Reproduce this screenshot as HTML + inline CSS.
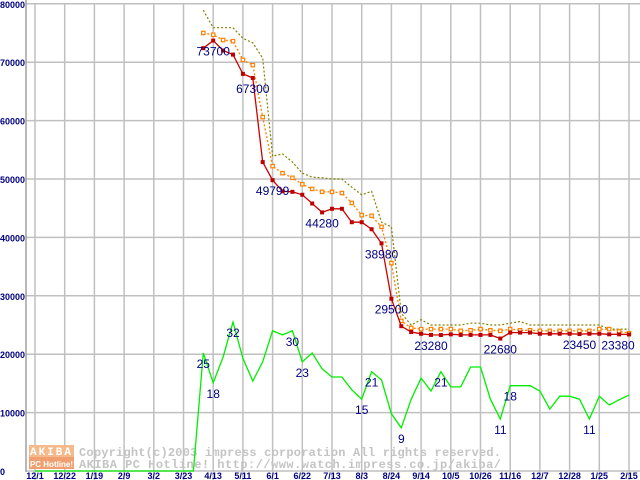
<!DOCTYPE html>
<html><head><meta charset="utf-8"><style>
html,body{margin:0;padding:0;background:#fff;}
svg{display:block;font-family:"Liberation Sans",sans-serif;}
</style></head><body>
<svg id="chart" width="640" height="480" viewBox="0 0 640 480" xmlns="http://www.w3.org/2000/svg">
<g id="grid"></g>
<g id="watermark">
  <rect x="29" y="445" width="45" height="12" fill="#f6b98a"/>
  <rect x="29" y="457" width="45" height="12" fill="#f0a070"/>
  <text x="51.5" y="455" text-anchor="middle" font-size="11" font-weight="bold" fill="#fff" letter-spacing="2" font-family="Liberation Mono,monospace">AKIBA</text>
  <text x="51.5" y="467" text-anchor="middle" font-size="8" font-weight="bold" fill="#fff" font-family="Liberation Sans,sans-serif">PC Hotline!</text>
  <text x="79" y="456" font-size="12" font-weight="bold" fill="#c4c4c4" font-family="Liberation Mono,monospace" textLength="422">Copyright(c)2003 impress corporation All rights reserved.</text>
  <text x="79" y="468" font-size="12" font-weight="bold" fill="#c4c4c4" font-family="Liberation Mono,monospace" textLength="422">AKIBA PC Hotline!  http://www.watch.impress.co.jp/akiba/</text>
</g>
<g id="series"></g>
<g id="labels"></g>
</svg>
<script>
const xTickLabels = ["12/1","12/22","1/19","2/9","3/2","3/23","4/13","5/11","6/1","6/22","7/13","8/3","8/24","9/14","10/5","10/26","11/16","12/7","12/28","1/25","2/15"];
const yTickValues = [0,10000,20000,30000,40000,50000,60000,70000,80000];
const startWeek = 17;
const redSeries = [72400,73700,72000,71300,68000,67300,52900,49800,47900,47800,47300,45800,44280,44900,44900,42600,42600,41400,38980,29500,24800,23800,23500,23300,23280,23400,23300,23300,23300,23300,22680,23700,23700,23700,23500,23500,23500,23500,23450,23500,23500,23400,23400,23380];
const orangeSeries = [75000,74700,73800,73600,70400,69500,60600,52200,51000,50200,49100,48300,47800,47800,47600,45900,43800,43700,41800,35600,25700,24500,24300,24300,24300,24300,24000,24100,24300,24100,24000,24300,24100,24100,24000,24000,24000,24000,24000,24000,24300,24300,23900,23600];
const oliveSeries = [78900,75900,75900,75900,74100,73300,70700,53900,54300,52900,51000,50300,50200,50000,50000,48600,47300,47900,42600,41800,27000,25000,25900,25000,25000,25000,25000,25300,25300,25000,25000,25300,25600,25000,25000,25000,25000,25000,25000,25000,25000,24300,24300,24300];
const greenSeries = [0,0,0,0,0,0,0,0,0,0,0,0,0,0,0,0,0,20200,15100,19500,25500,19300,15400,18700,24000,23300,24000,18700,20200,17500,16100,16100,13900,12300,17000,15600,9800,7400,12300,15900,13700,17000,14400,14400,17800,17800,12300,8900,14600,14600,14600,13700,10600,12800,12800,12300,8900,12800,11300,12200,13000];
const priceLabelWeeks = [18,22,24,29,35,36,40,47,55,60];
const priceLabelTexts = ["73700","67300","49799","44280","38980","29500","23280","22680","23450","23380"];
const countLabelWeeks = [17,18,20,26,27,33,34,37,41,47,48,56];
const countLabelTexts = ["25","18","32","30","23","15","21","9","21","11","18","11"];

const NS = "http://www.w3.org/2000/svg";
function xs(w){ return 35 + w*9.9; }
function ys(v){ return 471 - v*0.00584; }
function mk(tag, attrs, parent){ const e=document.createElementNS(NS,tag); for(const k in attrs) e.setAttribute(k,attrs[k]); parent.appendChild(e); return e; }

const grid = document.getElementById('grid');
for (let i=0;i<xTickLabels.length;i++){
  const x = xs(i*3);
  const l = mk('line',{x1:x,x2:x,y1:4,y2:480,stroke:'#c0c0c0','stroke-width':1.5},grid);
  
  
  const t = mk('text',{x:x,y:479,'text-anchor':'middle','font-size':9,'font-weight':'bold',fill:'#000080'},grid);
  t.textContent = xTickLabels[i];
  
  
}
for (const v of yTickValues){
  const y = ys(v);
  const l = mk('line',{x1:26,x2:640,y1:y,y2:y,stroke:'#c0c0c0','stroke-width':1.5},grid);
  
  
  const t = mk('text',{x:0,y:y+4,'font-size':9,'font-weight':'bold',fill:'#000080'},grid);
  t.textContent = String(v);
  
  
}
const ax = mk('line',{x1:26,x2:26,y1:0,y2:472,stroke:'#a0a0a0','stroke-width':1.5},grid);



const series = document.getElementById('series');
function pts(arr, start){ return arr.map((v,i)=>xs(start+i).toFixed(1)+','+ys(v).toFixed(1)).join(' '); }

const gl = mk('polyline',{points:pts(greenSeries,0),fill:'none',stroke:'#00ee00','stroke-width':1.3},series);



const ol = mk('polyline',{points:pts(oliveSeries,startWeek),fill:'none',stroke:'#808000','stroke-width':1.2,'stroke-dasharray':'2,2'},series);



const orl = mk('polyline',{points:pts(orangeSeries,startWeek),fill:'none',stroke:'#ff8000','stroke-width':1.3,'stroke-dasharray':'2,2'},series);


orangeSeries.forEach((v,i)=>{
  const r = mk('rect',{x:xs(startWeek+i)-1.7,y:ys(v)-1.7,width:3.4,height:3.4,fill:'#fff',stroke:'#ff8000','stroke-width':1.2},series);
  
  
});

const rl = mk('polyline',{points:pts(redSeries,startWeek),fill:'none',stroke:'#cc0000','stroke-width':1.3},series);


redSeries.forEach((v,i)=>{
  const r = mk('rect',{x:xs(startWeek+i)-2,y:ys(v)-2,width:4,height:4,fill:'#bb0000'},series);
  
  
});

const labels = document.getElementById('labels');
priceLabelWeeks.forEach((w,i)=>{
  const v = redSeries[w-startWeek];
  const cx = Math.min(xs(w), 618);
  const t = mk('text',{x:cx,y:ys(v)+15,'text-anchor':'middle','font-size':12,fill:'#000080'},labels);
  t.textContent = priceLabelTexts[i];
  
  
});
countLabelWeeks.forEach((w,i)=>{
  const v = greenSeries[w];
  const t = mk('text',{x:xs(w),y:ys(v)+15,'text-anchor':'middle','font-size':12,fill:'#000080'},labels);
  t.textContent = countLabelTexts[i];
  
  
});
</script>
</body></html>
